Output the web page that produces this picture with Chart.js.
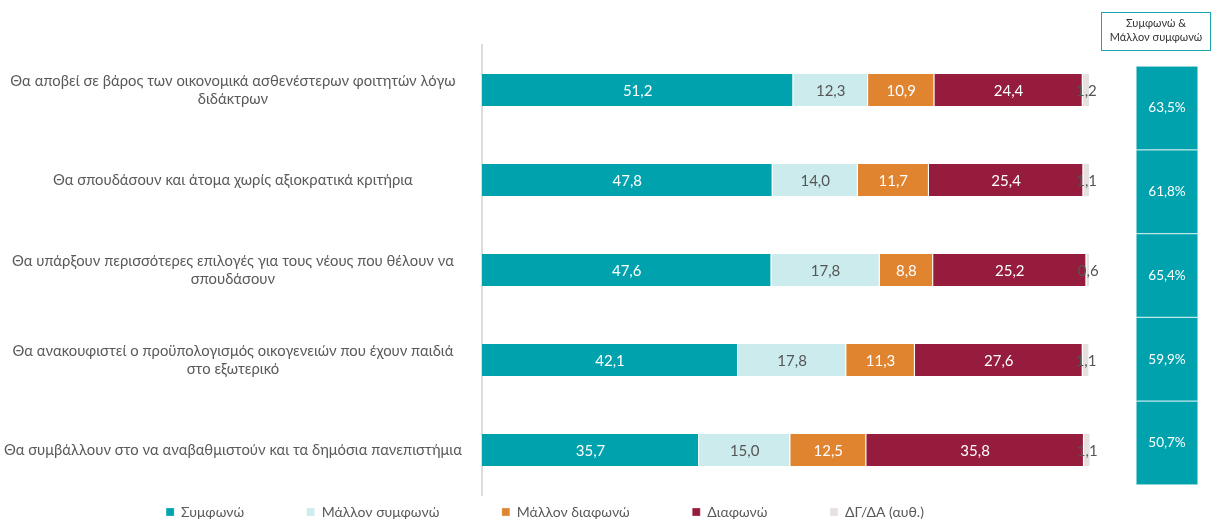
<!DOCTYPE html>
<html>
<head>
<meta charset="utf-8">
<script src="https://cdn.jsdelivr.net/npm/chart.js@4.4.0/dist/chart.umd.min.js"></script>
<style>
  html, body { margin: 0; padding: 0; background: #fff; }
  body { width: 1214px; height: 519px; position: relative; overflow: hidden; font-family: Lato, sans-serif; }
  #mainWrap { position: absolute; left: 0; top: 0; width: 1110px; height: 529px; }
  #boxWrap { position: absolute; left: 1136px; top: 66px; width: 62px; height: 419px; }
  #boxHead {
    position: absolute; left: 1101px; top: 12px; width: 108px; height: 34px;
    border: 1.5px solid #1AA5AE; color: #333; font-size: 11px; line-height: 14px;
    text-align: center; padding-top: 3px; box-sizing: content-box;
  }
</style>
</head>
<body>
<div id="mainWrap"><canvas id="myCanvas"></canvas></div>
<div id="boxHead">Συμφωνώ &amp;<br>Μάλλον συμφωνώ</div>
<div id="boxWrap"><canvas id="boxCanvas"></canvas></div>
<script>
// categories (already split into lines the way the source wraps them)
const categories = [
  ['Θα αποβεί σε βάρος των οικονομικά ασθενέστερων φοιτητών λόγω', 'διδάκτρων'],
  'Θα σπουδάσουν και άτομα χωρίς αξιοκρατικά κριτήρια',
  ['Θα υπάρξουν περισσότερες επιλογές για τους νέους που θέλουν να', 'σπουδάσουν'],
  ['Θα ανακουφιστεί ο προϋπολογισμός οικογενειών που έχουν παιδιά', 'στο εξωτερικό'],
  'Θα συμβάλλουν στο να αναβαθμιστούν και τα δημόσια πανεπιστήμια'
];

const seriesNames = ['Συμφωνώ', 'Μάλλον συμφωνώ', 'Μάλλον διαφωνώ', 'Διαφωνώ', 'ΔΓ/ΔΑ (αυθ.)'];

const agree        = [51.2, 47.8, 47.6, 42.1, 35.7];
const ratherAgree  = [12.3, 14.0, 17.8, 17.8, 15.0];
const ratherDis    = [10.9, 11.7, 8.8, 11.3, 12.5];
const disagree     = [24.4, 25.4, 25.2, 27.6, 35.8];
const dkna         = [1.2, 1.1, 0.6, 1.1, 1.1];

// right hand column: agree + rather agree
const totals = [63.5, 61.8, 65.4, 59.9, 50.7];

const colors     = ['#00A3AD', '#CCEBED', '#E0842F', '#951C3D', '#E6E1DF'];
const textColors = ['#FFFFFF', '#555555', '#FFFFFF', '#FFFFFF', '#555555'];

const fontFam = 'Lato, sans-serif';

function fmt(v) {
  return v.toFixed(1).replace('.', ',');
}

// writes the value in the middle of every segment
const segmentLabels = {
  id: 'segmentLabels',
  afterDatasetsDraw(chart) {
    const ctx = chart.ctx;
    ctx.save();
    ctx.font = '15px ' + fontFam;
    ctx.textAlign = 'center';
    ctx.textBaseline = 'middle';
    chart.data.datasets.forEach((ds, i) => {
      const meta = chart.getDatasetMeta(i);
      meta.data.forEach((bar, j) => {
        ctx.fillStyle = textColors[i];
        ctx.fillText(fmt(ds.data[j]), (bar.x + bar.base) / 2, bar.y + 1);
      });
    });
    ctx.restore();
  }
};

const allSeries = [agree, ratherAgree, ratherDis, disagree, dkna];

var c = document.getElementById('myCanvas');
var ctx = c.getContext('2d');
var myChart = new Chart(ctx, {
  type: 'bar',
  data: {
    labels: categories,
    datasets: allSeries.map((s, i) => ({
      label: seriesNames[i],
      data: s,
      backgroundColor: colors[i],
      borderColor: '#FFFFFF',
      borderWidth: { left: 0, right: 1, top: 0, bottom: 0 },
      borderSkipped: false,
      barPercentage: 0.355,
      categoryPercentage: 1
    }))
  },
  options: {
    indexAxis: 'y',
    responsive: true,
    maintainAspectRatio: false,
    animation: false,
    layout: { padding: { top: 45, right: 20, left: 0, bottom: 0 } },
    scales: {
      x: { stacked: true, display: false, min: 0, max: 100 },
      y: {
        stacked: true,
        grid: { display: false },
        border: { display: true, color: '#DDDDDD', width: 2 },
        ticks: {
          crossAlign: 'center',
          padding: 12,
          color: '#595959',
          font: { family: fontFam, size: 14.8 }
        },
        afterFit(scale) { scale.width = 482; }
      }
    },
    plugins: {
      tooltip: { enabled: false },
      legend: {
        position: 'bottom',
        labels: {
          boxWidth: 8,
          boxHeight: 8,
          padding: 10,
          color: '#595959',
          font: { family: fontFam, size: 14 },
          // extra room after each entry, the source spreads them out
          generateLabels(chart) {
            const items = Chart.defaults.plugins.legend.labels.generateLabels(chart);
            items.forEach((it, k) => {
              if (k < items.length - 1) it.text += '\u2003\u2003\u2003\u2003\u2003';
            });
            return items;
          }
        }
      }
    }
  },
  plugins: [segmentLabels]
});

// the teal column with the totals
const boxLabels = {
  id: 'boxLabels',
  afterDatasetsDraw(chart) {
    const ctx = chart.ctx;
    ctx.save();
    ctx.font = '13.5px ' + fontFam;
    ctx.fillStyle = '#FFFFFF';
    ctx.textAlign = 'center';
    ctx.textBaseline = 'middle';
    chart.getDatasetMeta(0).data.forEach((bar, j) => {
      ctx.fillText(fmt(totals[j]) + '%', (bar.x + bar.base) / 2, bar.y);
    });
    ctx.restore();
  }
};

var bctx = document.getElementById('boxCanvas').getContext('2d');
new Chart(bctx, {
  type: 'bar',
  data: {
    labels: totals.map(t => fmt(t)),
    datasets: [{
      data: totals.map(() => [0, 1]),
      backgroundColor: '#00A3AD',
      borderColor: '#BFE6E9',
      borderWidth: 1,
      borderSkipped: false,
      barPercentage: 1,
      categoryPercentage: 1
    }]
  },
  options: {
    indexAxis: 'y',
    responsive: true,
    maintainAspectRatio: false,
    animation: false,
    layout: { padding: 0 },
    scales: {
      x: { display: false, min: 0, max: 1 },
      y: { display: false }
    },
    plugins: { legend: { display: false }, tooltip: { enabled: false } }
  },
  plugins: [boxLabels]
});
</script>
</body>
</html>
